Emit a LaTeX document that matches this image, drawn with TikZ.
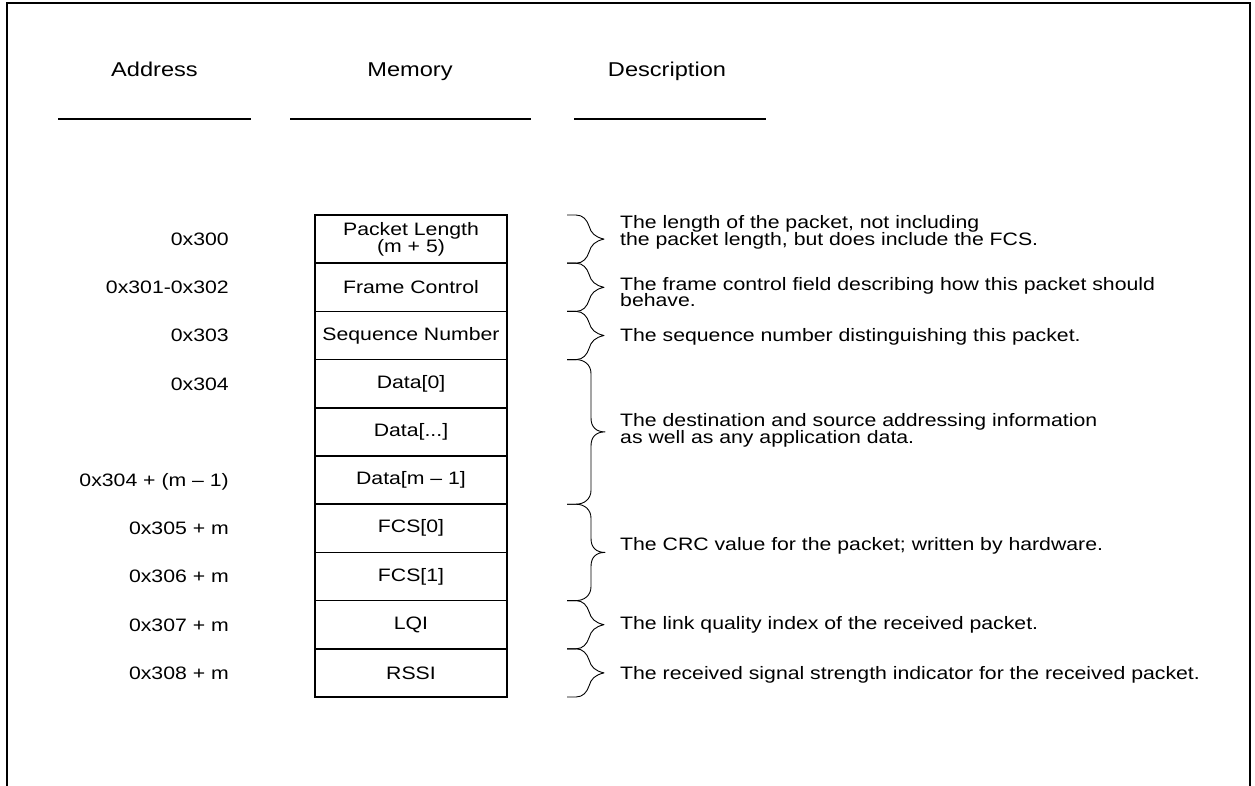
\documentclass[tikz,border=0pt]{standalone}
\usepackage{fontspec}
\setmainfont{Liberation Sans}[FakeStretch=1.18]
\newcommand\sbrace[2]{\draw[brc] (567,#1) -- (576,#1) .. controls (583,#1) and (587,{#1+5}) .. (589,{#1+11}) .. controls (591,{(#1+#2)/2-6}) and (595,{(#1+#2)/2-2}) .. (604,{(#1+#2)/2}) .. controls (595,{(#1+#2)/2+2}) and (591,{(#1+#2)/2+6}) .. (589,{#2-11}) .. controls (587,{#2-5}) and (583,#2) .. (576,#2) -- (567,#2);}
\newcommand\bbrace[2]{\draw[brc] (567,#1) -- (576,#1) .. controls (584,#1) and (591,{#1+5}) .. (591,{#1+14}) -- (591,{(#1+#2)/2-14}) .. controls (591,{(#1+#2)/2-5}) and (596,{(#1+#2)/2}) .. (605,{(#1+#2)/2}) .. controls (596,{(#1+#2)/2}) and (591,{(#1+#2)/2+5}) .. (591,{(#1+#2)/2+14}) -- (591,{#2-14}) .. controls (591,{#2-5}) and (584,#2) .. (576,#2) -- (567,#2);}
\begin{document}
\begin{tikzpicture}[x=1pt,y=-1pt,
  font=\fontsize{18}{17}\selectfont,
  frame/.style={line width=1.6pt},
  rule/.style={line width=1.6pt},
  cell/.style={draw, line width=1.6pt, minimum width=192pt, minimum height=48.2pt, inner sep=0pt, align=center},
  addr/.style={anchor=base east, inner sep=0pt},
  desc/.style={anchor=base west, inner sep=0pt},
  head/.style={anchor=base, inner sep=0pt, font=\fontsize{20}{22}\selectfont},
  brc/.style={line width=0.9pt, line join=round}]
\useasboundingbox (0,0) rectangle (1255,786);
\draw[frame] (7,786) -- (7,3) -- (1250,3) -- (1250,786);
% headers
\node[head] (hA) at (154.5,77) {Address};
\node[head] (hM) at (410,77) {Memory};
\node[head] (hD) at (667,77) {Description};
\draw[rule] (58,119) -- (251,119);
\draw[rule] (290,119) -- (531,119);
\draw[rule] (574,119) -- (766,119);
% memory cells
\node[cell] (c1) at (411,239.1) {Packet Length\\(m + 5)};
\node[cell] (c2) at (411,287.3) {Frame Control};
\node[cell] (c3) at (411,335.5) {Sequence Number};
\node[cell] (c4) at (411,383.7) {Data[0]};
\node[cell] (c5) at (411,431.9) {Data[...]};
\node[cell] (c6) at (411,480.1) {Data[m -- 1]};
\node[cell] (c7) at (411,528.3) {FCS[0]};
\node[cell] (c8) at (411,576.5) {FCS[1]};
\node[cell] (c9) at (411,624.7) {LQI};
\node[cell] (c10) at (411,672.9) {RSSI};
% addresses
\node[addr] (a1) at (229,245.5) {0x300};
\node[addr] (a2) at (229,293.7) {0x301-0x302};
\node[addr] (a3) at (229,341.9) {0x303};
\node[addr] (a4) at (229,390.1) {0x304};
\node[addr] (a6) at (229,486.5) {0x304 + (m -- 1)};
\node[addr] (a7) at (229,534.7) {0x305 + m};
\node[addr] (a8) at (229,582.9) {0x306 + m};
\node[addr] (a9) at (229,631.1) {0x307 + m};
\node[addr] (a10) at (229,679.3) {0x308 + m};
% braces
\sbrace{215}{263.2}
\sbrace{263.2}{311.4}
\sbrace{311.4}{359.6}
\bbrace{359.6}{504.2}
\bbrace{504.2}{600.6}
\sbrace{600.6}{648.8}
\sbrace{648.8}{697}
% descriptions
\node[desc] (d1a) at (620,228.5) {The length of the packet, not including};
\node[desc] (d1b) at (620,246) {the packet length, but does include the FCS.};
\node[desc] (d2a) at (620,290.5) {The frame control field describing how this packet should};
\node[desc] (d2b) at (620,306.5) {behave.};
\node[desc] (d3) at (620,341.5) {The sequence number distinguishing this packet.};
\node[desc] (d4a) at (620,426.5) {The destination and source addressing information};
\node[desc] (d4b) at (620,443.5) {as well as any application data.};
\node[desc] (d5) at (620,550.5) {The CRC value for the packet; written by hardware.};
\node[desc] (d6) at (620,629.5) {The link quality index of the received packet.};
\node[desc] (d7) at (620,679.5) {The received signal strength indicator for the received packet.};
\end{tikzpicture}
\end{document}
